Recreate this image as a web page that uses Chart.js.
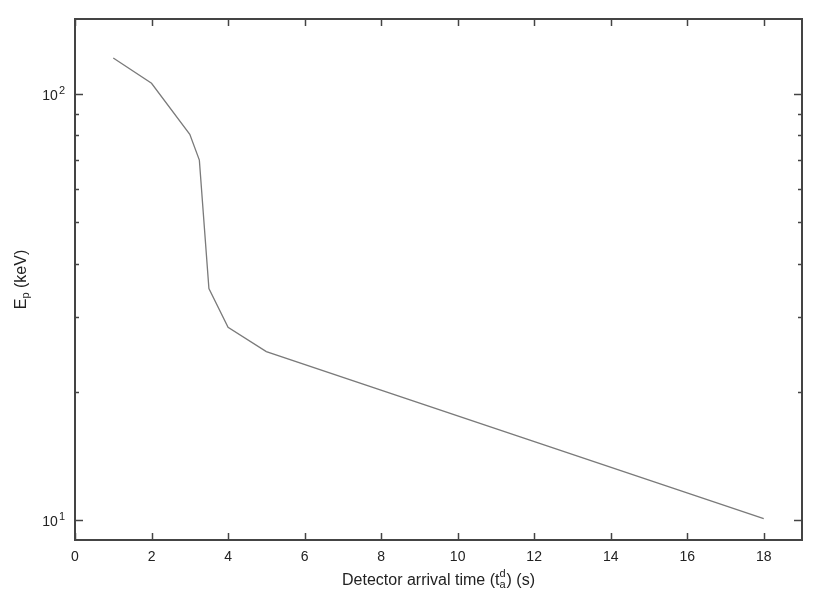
<!DOCTYPE html>
<html>
<head>
<meta charset="utf-8">
<script src="https://cdn.jsdelivr.net/npm/chart.js@4"></script>
<style>
  html, body { margin: 0; padding: 0; background: #fff; }
  #wrap { width: 830px; height: 601px; }
</style>
</head>
<body>
<div id="wrap"><canvas id="myChart" width="830" height="601"></canvas></div>
<script>
// detector arrival time (s) -> peak energy (keV)
var arrivalTime = [1, 2, 3, 3.25, 3.5, 4, 5, 18];
var peakEnergy = [121.5, 106, 80.5, 70, 35, 28.4, 24.9, 10.1];

var xTicks = [0, 2, 4, 6, 8, 10, 12, 14, 16, 18];
var yMajor = [10, 100];
var yMinor = [20, 30, 40, 50, 60, 70, 80, 90];
var yExponents = ['1', '2'];

var FONT = '"Liberation Sans", Arial, Helvetica, sans-serif';

// box + inward ticks on all four sides, y labels with exponents, axis titles
var framePlugin = {
    id: 'frame',
    afterDraw: function (chart) {
        var ctx = chart.ctx;
        var a = chart.chartArea;
        var xs = chart.scales.x;
        var ys = chart.scales.y;
        var tickFont = '14px ' + FONT;
        var expFont = '11px ' + FONT;
        var big = '16px ' + FONT;
        var small = '11px ' + FONT;

        function seg(x1, y1, x2, y2) {
            ctx.beginPath();
            ctx.moveTo(x1, y1);
            ctx.lineTo(x2, y2);
            ctx.stroke();
        }

        ctx.save();
        ctx.strokeStyle = '#444';
        ctx.lineWidth = 1.5;

        xTicks.forEach(function (v) {
            var px = Math.round(xs.getPixelForValue(v)) + 0.5;
            seg(px, a.bottom, px, a.bottom - 7);
            seg(px, a.top, px, a.top + 7);
        });
        yMajor.forEach(function (v) {
            var py = Math.round(ys.getPixelForValue(v)) + 0.5;
            seg(a.left, py, a.left + 8, py);
            seg(a.right, py, a.right - 8, py);
        });
        yMinor.forEach(function (v) {
            var py = Math.round(ys.getPixelForValue(v)) + 0.5;
            seg(a.left, py, a.left + 4, py);
            seg(a.right, py, a.right - 4, py);
        });

        ctx.lineWidth = 2;
        ctx.strokeRect(a.left, a.top, a.right - a.left, a.bottom - a.top);

        ctx.fillStyle = '#222';
        ctx.textBaseline = 'alphabetic';

        // y tick labels 10^1, 10^2
        yMajor.forEach(function (v, i) {
            var py = ys.getPixelForValue(v);
            ctx.font = expFont;
            var we = ctx.measureText(yExponents[i]).width + 1;
            var right = a.left - 10;
            ctx.textAlign = 'right';
            ctx.fillText(yExponents[i], right, py);
            ctx.font = tickFont;
            ctx.fillText('10', right - we, py + 6);
        });

        // x title: Detector arrival time (t_a^d) (s)
        ctx.textAlign = 'left';
        var p1 = 'Detector arrival time (t';
        var p2 = ') (s)';
        ctx.font = big;
        var w1 = ctx.measureText(p1).width;
        var w3 = ctx.measureText(p2).width;
        ctx.font = small;
        var w2 = Math.max(ctx.measureText('d').width, ctx.measureText('a').width) + 1;
        var cx = (a.left + a.right) / 2;
        var x0 = cx - (w1 + w2 + w3) / 2;
        var base = 585;
        ctx.font = big;
        ctx.fillText(p1, x0, base);
        ctx.font = small;
        ctx.fillText('d', x0 + w1, base - 8);
        ctx.fillText('a', x0 + w1, base + 3);
        ctx.font = big;
        ctx.fillText(p2, x0 + w1 + w2, base);

        // y title: E_p (keV)
        ctx.save();
        ctx.translate(26, (a.top + a.bottom) / 2);
        ctx.rotate(-Math.PI / 2);
        ctx.font = big;
        var wE = ctx.measureText('E').width;
        var wK = ctx.measureText(' (keV)').width;
        ctx.font = small;
        var wp = ctx.measureText('p').width;
        var y0 = -(wE + wp + wK) / 2;
        ctx.font = big;
        ctx.fillText('E', y0, 0);
        ctx.font = small;
        ctx.fillText('p', y0 + wE, 3);
        ctx.font = big;
        ctx.fillText(' (keV)', y0 + wE + wp, 0);
        ctx.restore();

        ctx.restore();
    }
};

var ctx = document.getElementById('myChart').getContext('2d');
var myChart = new Chart(ctx, {
    type: 'line',
    data: {
        datasets: [{
            data: arrivalTime.map(function (t, i) { return { x: t, y: peakEnergy[i] }; }),
            borderColor: '#7a7a7a',
            borderWidth: 1.3,
            pointRadius: 0,
            tension: 0,
            fill: false
        }]
    },
    options: {
        responsive: false,
        animation: false,
        layout: { padding: { top: 19, right: 28, left: 0, bottom: 0 } },
        plugins: {
            legend: { display: false },
            tooltip: { enabled: false }
        },
        scales: {
            x: {
                type: 'linear',
                min: 0,
                max: 19,
                afterBuildTicks: function (scale) {
                    scale.ticks = xTicks.map(function (v) { return { value: v }; });
                },
                afterFit: function (scale) { scale.height = 61; },
                ticks: {
                    color: '#222',
                    font: { family: FONT, size: 14 },
                    padding: 9,
                    maxRotation: 0,
                    autoSkip: false
                },
                grid: { display: false, drawTicks: false },
                border: { display: false }
            },
            y: {
                type: 'logarithmic',
                min: 9,
                max: 150,
                afterBuildTicks: function (scale) {
                    scale.ticks = yMajor.map(function (v) { return { value: v }; });
                },
                afterFit: function (scale) { scale.width = 75; },
                ticks: { display: false },
                grid: { display: false, drawTicks: false },
                border: { display: false }
            }
        }
    },
    plugins: [framePlugin]
});
</script>
</body>
</html>
